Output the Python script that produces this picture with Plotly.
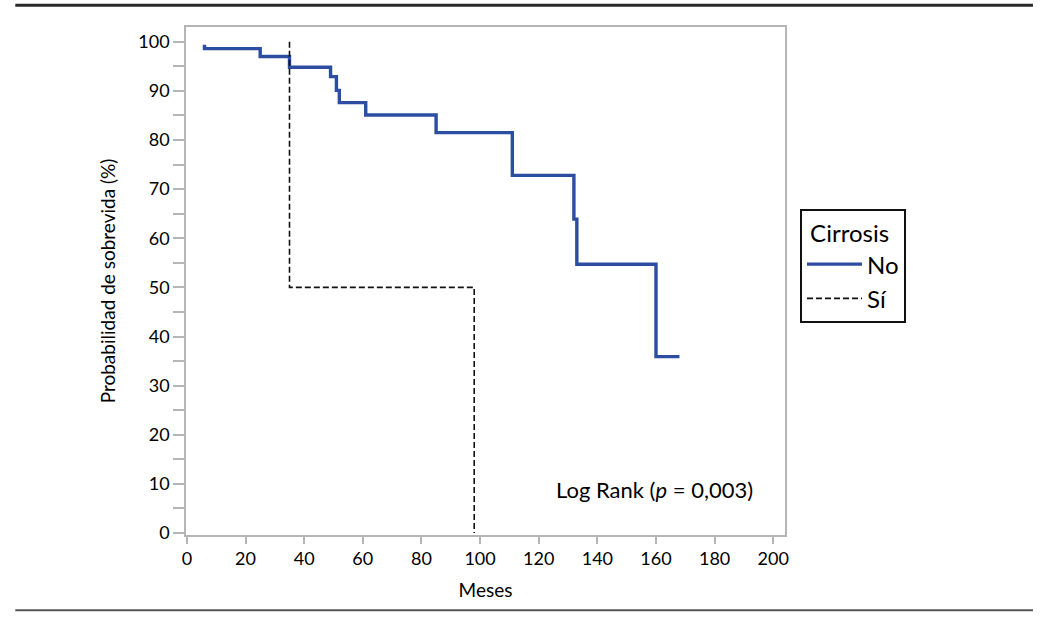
import plotly.graph_objects as go

# Kaplan-Meier curves (months, survival %)
no_t = [6, 6, 25, 35, 49, 51, 52, 61, 85, 111, 132, 133, 160, 168]
no_s = [99.4, 98.6, 97.0, 94.8, 92.9, 90.1, 87.6, 85.1, 81.5, 72.8, 63.9, 54.7, 35.9, 35.9]
si_t = [35, 35, 98, 98]
si_s = [100, 50, 50, 0]

x_ticks = [0, 20, 40, 60, 80, 100, 120, 140, 160, 180, 200]
y_ticks = [0, 10, 20, 30, 40, 50, 60, 70, 80, 90, 100]

FONT = "Lato"
fig = go.Figure()
fig.add_trace(go.Scatter(x=no_t, y=no_s, mode="lines", name="No", line_shape="hv",
                         line=dict(color="#2C4DA0", width=3.4)))
fig.add_trace(go.Scatter(x=si_t, y=si_s, mode="lines", name="Sí", line_shape="hv",
                         line=dict(color="#111111", width=1.6, dash="6px,3px")))

axis_common = dict(showline=True, linecolor="#b5b5b5", linewidth=1.5, mirror=True,
                   showgrid=False, zeroline=False, ticks="outside", tickcolor="#b5b5b5",
                   tickwidth=1.5, tickfont=dict(family=FONT, size=18, color="#000"))
fig.update_xaxes(range=[-0.3, 204], tickvals=x_ticks, ticklen=7,
                 title=dict(text="Meses", font=dict(family=FONT, size=19, color="#000"), standoff=15),
                 **axis_common)
fig.update_yaxes(range=[-0.4, 103], tickvals=y_ticks, ticklen=11,
                 minor=dict(dtick=5, tick0=0, ticks="outside", ticklen=11, tickcolor="#b5b5b5", tickwidth=1.5),
                 title=dict(text="Probabilidad de sobrevida (%)", font=dict(family=FONT, size=19, color="#000"), standoff=18),
                 **axis_common)

fig.add_annotation(x=0.95, y=0.089, xref="paper", yref="paper", xanchor="right", yanchor="middle",
                   text="Log Rank (<i>p</i> = 0,003)", showarrow=False,
                   font=dict(family=FONT, size=22, color="#000"))

# horizontal rules above and below the figure
fig.add_shape(type="line", xref="paper", yref="paper", x0=-0.285, x1=1.414, y0=1.043, y1=1.043,
              line=dict(color="#2a2a2a", width=3))
fig.add_shape(type="line", xref="paper", yref="paper", x0=-0.285, x1=1.414, y0=-0.148, y1=-0.148,
              line=dict(color="#555555", width=2))

fig.update_layout(
    width=1041, height=623,
    margin=dict(l=186, r=256, t=27, b=88),
    paper_bgcolor="white", plot_bgcolor="white",
    font=dict(family=FONT, color="#000"),
    legend=dict(x=1.025, y=0.642, xanchor="left", yanchor="top",
                bordercolor="#111", borderwidth=2,
                title=dict(text=" Cirrosis", font=dict(family=FONT, size=24, color="#000")),
                font=dict(family=FONT, size=24, color="#000"),
                itemwidth=55, tracegroupgap=0),
    showlegend=True,
)

fig.write_html("out.html", config={"displayModeBar": False},
               post_script="document.body.style.margin='0px';")
